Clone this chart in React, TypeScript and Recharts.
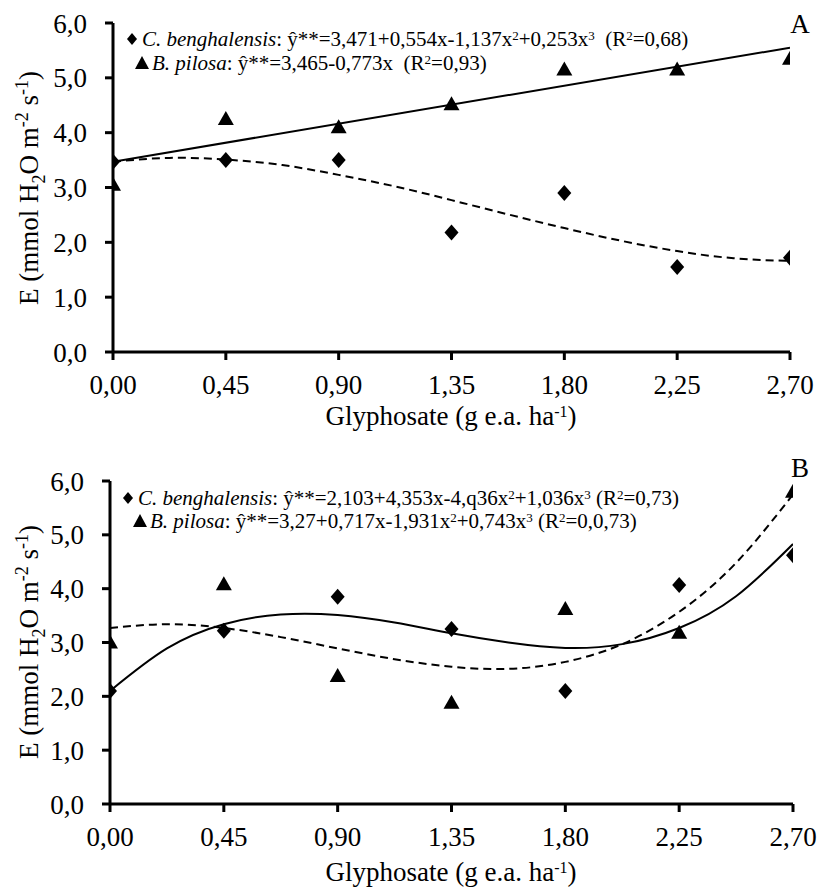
import React from "react";
import { ComposedChart, XAxis, YAxis, Scatter, Line } from "recharts";

// doses of glyphosate (g e.a. ha-1)
const doses = [0, 0.45, 0.9, 1.35, 1.8, 2.25, 2.7];
const yTicks = [0, 1, 2, 3, 4, 5, 6];

// observed transpiration, panel A
const benghalensisA = [3.47, 3.5, 3.5, 2.18, 2.9, 1.55, 1.72];
const pilosaA = [3.05, 4.25, 4.1, 4.52, 5.15, 5.15, 5.35];

// observed transpiration, panel B
const benghalensisB = [2.1, 3.22, 3.85, 3.25, 2.1, 4.07, 4.62];
const pilosaB = [3.0, 4.08, 2.38, 1.88, 3.62, 3.18, 5.8];

// fitted regression curves
const fitDoses = [0, 0.225, 0.45, 0.675, 0.9, 1.125, 1.35, 1.575, 1.8, 2.025, 2.25, 2.475, 2.7];
const benghalensisFitA = [3.47, 3.54, 3.51, 3.41, 3.23, 3.02, 2.77, 2.51, 2.26, 2.03, 1.84, 1.71, 1.66];
const pilosaLineDoses = [0, 2.7];
const pilosaFitA = [3.47, 5.55];
const benghalensisFitB = [2.1, 2.89, 3.34, 3.52, 3.51, 3.37, 3.17, 3.0, 2.9, 2.97, 3.27, 3.86, 4.83];
const pilosaFitB = [3.27, 3.34, 3.27, 3.1, 2.89, 2.69, 2.55, 2.51, 2.64, 2.97, 3.57, 4.48, 5.75];

// legend equations; {s: ".."} is a superscript
type Part = string | { s: string };
const eqBenghalensisA: Part[] = [": ŷ**=3,471+0,554x-1,137x", { s: "2" }, "+0,253x", { s: "3" }, "  (R", { s: "2" }, "=0,68)"];
const eqPilosaA: Part[] = [": ŷ**=3,465-0,773x  (R", { s: "2" }, "=0,93)"];
const eqBenghalensisB: Part[] = [": ŷ**=2,103+4,353x-4,q36x", { s: "2" }, "+1,036x", { s: "3" }, " (R", { s: "2" }, "=0,73)"];
const eqPilosaB: Part[] = [": ŷ**=3,27+0,717x-1,931x", { s: "2" }, "+0,743x", { s: "3" }, " (R", { s: "2" }, "=0,0,73)"];

const pts = (xs: number[], ys: number[]) => xs.map((x, i) => ({ x, y: ys[i] }));

const serif = "Liberation Serif, DejaVu Serif, serif";
const tickStyle = { fontSize: 27, fill: "#000", style: { fontFamily: serif } };
const axisStroke = { stroke: "#000", strokeWidth: 3 };
const textStyle = { fontFamily: serif, whiteSpace: "pre" as const };

const Diamond = (props: any) => {
  const { cx, cy } = props;
  if (cx == null || cy == null) return <g />;
  return <polygon points={`${cx},${cy - 8} ${cx + 7},${cy} ${cx},${cy + 8} ${cx - 7},${cy}`} fill="#000" />;
};

const Triangle = (props: any) => {
  const { cx, cy } = props;
  if (cx == null || cy == null) return <g />;
  return <polygon points={`${cx},${cy - 8} ${cx + 8},${cy + 6} ${cx - 8},${cy + 6}`} fill="#000" />;
};

// renders text parts with raised superscripts, restoring the baseline afterwards
function rich(parts: Part[], shift: number, small: number) {
  let raised = false;
  return parts.map((p, i) => {
    if (typeof p === "string") {
      const dy = raised ? shift : undefined;
      raised = false;
      return <tspan key={i} dy={dy}>{p}</tspan>;
    }
    raised = true;
    return <tspan key={i} dy={-shift} fontSize={small}>{p.s}</tspan>;
  });
}

function YTitle({ x, y }: { x: number; y: number }) {
  return (
    <text
      transform={`translate(${x},${y}) rotate(-90)`}
      textAnchor="middle"
      fontSize={27}
      fill="#000"
      style={textStyle}
    >
      <tspan>E (mmol H</tspan>
      <tspan dy={7} fontSize={18}>2</tspan>
      <tspan dy={-7}>O m</tspan>
      <tspan dy={-10} fontSize={18}>-2</tspan>
      <tspan dy={10}> s</tspan>
      <tspan dy={-10} fontSize={18}>-1</tspan>
      <tspan dy={10}>)</tspan>
    </text>
  );
}

function XTitle({ x, y }: { x: number; y: number }) {
  return (
    <text x={x} y={y} textAnchor="middle" fontSize={27} fill="#000" style={textStyle}>
      <tspan>Glyphosate (g e.a. ha</tspan>
      <tspan dy={-8} fontSize={16}>-1</tspan>
      <tspan dy={8}>)</tspan>
    </text>
  );
}

type PanelProps = {
  top: number;
  height: number;
  margin: { top: number; right: number; bottom: number; left: number };
  yWidth: number;
  diamonds: number[];
  triangles: number[];
  fits: { data: { x: number; y: number }[]; dashed: boolean; curved: boolean }[];
  overlay: React.ReactNode;
};

function Panel({ top, height, margin, yWidth, diamonds, triangles, fits, overlay }: PanelProps) {
  return (
    <div style={{ position: "absolute", left: 0, top, width: 829, height }}>
      <ComposedChart width={829} height={height} margin={margin}>
        <XAxis
          type="number"
          dataKey="x"
          domain={[0, 2.7]}
          ticks={doses}
          interval={0}
          allowDataOverflow
          height={30}
          tickFormatter={(v: number) => v.toFixed(2).replace(".", ",")}
          tick={tickStyle}
          tickSize={8}
          tickMargin={15}
          axisLine={axisStroke}
          tickLine={axisStroke}
        />
        <YAxis
          type="number"
          dataKey="y"
          domain={[0, 6]}
          ticks={yTicks}
          interval={0}
          width={yWidth}
          tickFormatter={(v: number) => v.toFixed(1).replace(".", ",")}
          tick={tickStyle}
          tickSize={8}
          tickMargin={18}
          axisLine={axisStroke}
          tickLine={axisStroke}
        />
        {fits.map((f, i) => (
          <Line
            key={i}
            data={f.data}
            dataKey="y"
            type={f.curved ? "natural" : "linear"}
            stroke="#000"
            strokeWidth={2}
            strokeDasharray={f.dashed ? "8 5" : undefined}
            dot={false}
            activeDot={false}
            isAnimationActive={false}
          />
        ))}
        <Scatter data={pts(doses, diamonds)} dataKey="y" shape={Diamond} isAnimationActive={false} />
        <Scatter data={pts(doses, triangles)} dataKey="y" shape={Triangle} isAnimationActive={false} />
      </ComposedChart>
      <svg
        width={829}
        height={height}
        style={{ position: "absolute", left: 0, top: 0, pointerEvents: "none" }}
      >
        {overlay}
      </svg>
    </div>
  );
}

function LegendRow({ x, y, marker, species, parts }: { x: number; y: number; marker: "d" | "t"; species: string; parts: Part[] }) {
  const mx = x - 10;
  const my = y - 7;
  return (
    <g>
      {marker === "d" ? (
        <polygon points={`${mx},${my - 6} ${mx + 5},${my} ${mx},${my + 6} ${mx - 5},${my}`} fill="#000" />
      ) : (
        <polygon points={`${mx},${my - 7} ${mx + 7},${my + 6} ${mx - 7},${my + 6}`} fill="#000" />
      )}
      <text x={x} y={y} fontSize={21} fill="#000" style={textStyle}>
        <tspan fontStyle="italic">{species}</tspan>
        {rich(parts, 6, 13)}
      </text>
    </g>
  );
}

export default function App() {
  const overlayA = (
    <>
      <LegendRow x={142} y={46} marker="d" species="C. benghalensis" parts={eqBenghalensisA} />
      <LegendRow x={152} y={70} marker="t" species="B. pilosa" parts={eqPilosaA} />
      <text x={800} y={33} textAnchor="middle" fontSize={27} fill="#000" style={textStyle}>A</text>
      <YTitle x={38} y={188} />
      <XTitle x={451} y={425} />
    </>
  );

  const overlayB = (
    <>
      <LegendRow x={138} y={60} marker="d" species="C. benghalensis" parts={eqBenghalensisB} />
      <LegendRow x={150} y={83} marker="t" species="B. pilosa" parts={eqPilosaB} />
      <text x={800} y={32} textAnchor="middle" fontSize={27} fill="#000" style={textStyle}>B</text>
      <YTitle x={38} y={197} />
      <XTitle x={451} y={436} />
    </>
  );

  return (
    <div style={{ position: "absolute", left: 0, top: 0, width: 829, height: 891, background: "#fff" }}>
      <Panel
        top={0}
        height={445}
        margin={{ top: 23, right: 39, bottom: 63, left: 0 }}
        yWidth={113}
        diamonds={benghalensisA}
        triangles={pilosaA}
        fits={[
          { data: pts(fitDoses, benghalensisFitA), dashed: true, curved: true },
          { data: pts(pilosaLineDoses, pilosaFitA), dashed: false, curved: false },
        ]}
        overlay={overlayA}
      />
      <Panel
        top={445}
        height={446}
        margin={{ top: 36, right: 36, bottom: 57, left: 0 }}
        yWidth={110}
        diamonds={benghalensisB}
        triangles={pilosaB}
        fits={[
          { data: pts(fitDoses, benghalensisFitB), dashed: false, curved: true },
          { data: pts(fitDoses, pilosaFitB), dashed: true, curved: true },
        ]}
        overlay={overlayB}
      />
    </div>
  );
}
